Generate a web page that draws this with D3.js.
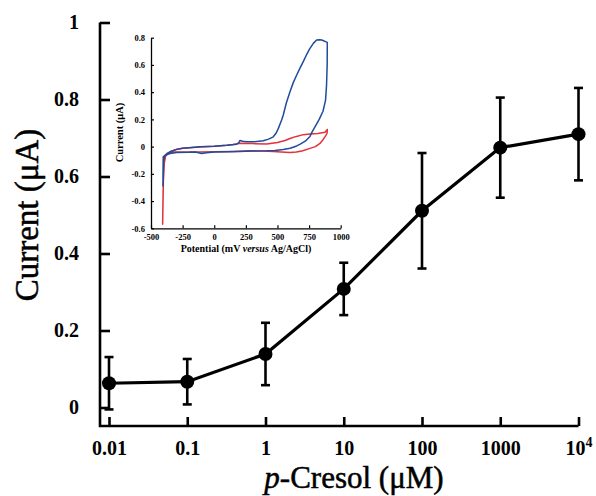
<!DOCTYPE html>
<html>
<head>
<meta charset="utf-8">
<script src="https://cdn.jsdelivr.net/npm/d3@7"></script>
<style>
  body { margin: 0; background: #fff; }
  svg { display: block; font-family: "Liberation Serif", "Times New Roman", serif; }
</style>
</head>
<body>
<svg id="chart" width="596" height="496"></svg>
<script>
// main plot: p-Cresol concentration (uM) vs. current (uA)
const concentrations = [0.01, 0.1, 1, 10, 100, 1000, 10000];
const currents = [0.063, 0.067, 0.139, 0.308, 0.511, 0.675, 0.71];
const errors = [0.068, 0.059, 0.081, 0.068, 0.15, 0.13, 0.12];
const xTicks = [0.01, 0.1, 1, 10, 100, 1000, 10000];
const xTickLabels = ["0.01", "0.1", "1", "10", "100", "1000", "10^4"];
const yTicks = [0, 0.2, 0.4, 0.6, 0.8, 1];
const yTickLabels = ["0", "0.2", "0.4", "0.6", "0.8", "1"];

// inset: cyclic voltammograms, potential (mV) and current (uA)
const blueE = [-395, -370, -350, -300, -250, -200, -113, 0, 100, 178, 195, 204, 225, 257, 320, 388, 430, 467, 490, 507, 533, 546, 570, 599, 625, 652, 680, 704, 730, 757, 785, 810, 835, 850, 894,
  893, 888, 880, 860, 830, 800, 775, 757, 720, 680, 652, 600, 546, 480, 415, 300, 200, 100, 0, -60, -100, -150, -200, -297, -350, -389, -403, -405, -400, -395];
const blueI = [-0.075, -0.05, -0.038, -0.022, -0.012, -0.008, -0.001, 0.003, 0.01, 0.018, 0.03, 0.045, 0.04, 0.035, 0.036, 0.043, 0.055, 0.072, 0.1, 0.134, 0.195, 0.232, 0.32, 0.403, 0.47, 0.526, 0.58, 0.624, 0.675, 0.722, 0.76, 0.783, 0.785, 0.783, 0.766,
  0.6, 0.45, 0.34, 0.26, 0.2, 0.15, 0.11, 0.075, 0.04, 0.018, 0.005, -0.012, -0.021, -0.028, -0.031, -0.033, -0.035, -0.038, -0.04, -0.045, -0.05, -0.04, -0.042, -0.043, -0.05, -0.063, -0.075, -0.29, -0.1, -0.075];
const redE = [-390, -385, -360, -330, -300, -250, -113, 0, 100, 150, 204, 300, 415, 500, 560, 599, 650, 704, 757, 820, 876, 894,
  893, 884, 860, 836, 800, 757, 700, 650, 599, 530, 467, 380, 283, 150, 0, -113, -200, -323, -376, -400, -408, -402, -395, -390];
const redI = [-0.1, -0.07, -0.045, -0.03, -0.02, -0.012, -0.002, 0.003, 0.01, 0.015, 0.025, 0.022, 0.02, 0.03, 0.045, 0.06, 0.075, 0.088, 0.093, 0.097, 0.105, 0.126,
  0.1, 0.085, 0.05, 0.023, 0.0, -0.013, -0.03, -0.04, -0.043, -0.04, -0.036, -0.032, -0.031, -0.035, -0.038, -0.04, -0.039, -0.04, -0.05, -0.08, -0.57, -0.25, -0.12, -0.1];
const insetXTicks = [-500, -250, 0, 250, 500, 750, 1000];
const insetYTicks = [-0.6, -0.4, -0.2, 0, 0.2, 0.4, 0.6, 0.8];

const svg = d3.select('#chart');

// ---- main chart ----
const x = d3.scaleLog().domain([0.01, 10000]).range([109, 578.5]);
const y = d3.scaleLinear().domain([0, 1]).range([407.5, 22.5]);
const axisY = 426;     // x axis sits a bit below zero
const axisX = 100;     // y axis sits a bit left of first point

const main = svg.append('g');

// frame lines
main.append('path')
  .attr('d', `M${axisX},${y(1)}V${axisY}H${x(10000)}`)
  .attr('fill', 'none')
  .attr('stroke', '#000')
  .attr('stroke-width', 2.6);

const xAxis = main.append('g')
  .attr('transform', `translate(0,${axisY})`)
  .call(d3.axisBottom(x).tickValues(xTicks).tickSize(-9).tickPadding(14.5)
    .tickFormat((d, i) => xTickLabels[i]));
const yAxis = main.append('g')
  .attr('transform', `translate(${axisX},0)`)
  .call(d3.axisLeft(y).tickValues(yTicks).tickSize(-10).tickPadding(21)
    .tickFormat((d, i) => yTickLabels[i]));

[xAxis, yAxis].forEach(g => {
  g.select('.domain').remove();
  g.selectAll('.tick line').attr('stroke', '#000').attr('stroke-width', 2.6);
  g.selectAll('.tick text')
    .attr('fill', '#000')
    .attr('font-family', '"Liberation Serif", serif')
    .attr('font-weight', 'bold')
    .attr('font-size', 20);
});

// 10^4 with superscript
xAxis.selectAll('.tick text')
  .filter((d, i) => xTickLabels[i] === '10^4')
  .text('10')
  .append('tspan')
  .attr('dy', '-0.55em')
  .attr('font-size', 14)
  .text('4');

// error bars
const errG = main.append('g').attr('stroke', '#000').attr('stroke-width', 2.6);
concentrations.forEach((c, i) => {
  const top = y(currents[i] + errors[i]), bot = y(currents[i] - errors[i]), cx = x(c);
  errG.append('line').attr('x1', cx).attr('x2', cx).attr('y1', top).attr('y2', bot);
  errG.append('line').attr('x1', cx - 4.5).attr('x2', cx + 4.5).attr('y1', top).attr('y2', top);
  errG.append('line').attr('x1', cx - 4.5).attr('x2', cx + 4.5).attr('y1', bot).attr('y2', bot);
});

// line + markers
const pts = concentrations.map((c, i) => [c, currents[i]]);
main.append('path')
  .datum(pts)
  .attr('fill', 'none')
  .attr('stroke', '#000')
  .attr('stroke-width', 3.2)
  .attr('d', d3.line().x(d => x(d[0])).y(d => y(d[1])));

main.selectAll('circle.pt')
  .data(pts)
  .enter()
  .append('circle')
  .attr('class', 'pt')
  .attr('cx', d => x(d[0]))
  .attr('cy', d => y(d[1]))
  .attr('r', 7)
  .attr('fill', '#000');

// axis titles (a thin stroke to match the heavy print of the original)
main.append('text')
  .attr('transform', 'translate(38,215) rotate(-90)')
  .attr('text-anchor', 'middle')
  .attr('font-size', 33)
  .attr('stroke', '#000')
  .attr('stroke-width', 0.5)
  .text('Current (\u03bcA)');

const xt = main.append('text')
  .attr('x', 354)
  .attr('y', 488)
  .attr('text-anchor', 'middle')
  .attr('font-size', 31)
  .attr('stroke', '#000')
  .attr('stroke-width', 0.5);
xt.append('tspan').attr('font-style', 'italic').text('p');
xt.append('tspan').text('-Cresol (\u03bcM)');

// ---- inset ----
const ix = d3.scaleLinear().domain([-500, 1000]).range([151, 340.7]);
const iy = d3.scaleLinear().domain([-0.6, 0.8]).range([228.3, 37.7]);
const inset = svg.append('g');

const ixAxis = inset.append('g')
  .attr('transform', `translate(0,${iy(-0.6)})`)
  .call(d3.axisBottom(ix).tickValues(insetXTicks).tickSize(-3).tickSizeOuter(0).tickPadding(6)
    .tickFormat(d => String(d)));
const iyAxis = inset.append('g')
  .attr('transform', `translate(${ix(-500)},0)`)
  .call(d3.axisLeft(iy).tickValues(insetYTicks).tickSize(-3).tickSizeOuter(0).tickPadding(6)
    .tickFormat(d => String(d)));

[ixAxis, iyAxis].forEach(g => {
  g.select('.domain').attr('stroke', '#000').attr('stroke-width', 1.3);
  g.selectAll('.tick line').attr('stroke', '#000').attr('stroke-width', 1.2);
  g.selectAll('.tick text')
    .attr('fill', '#000')
    .attr('font-family', '"Liberation Serif", serif')
    .attr('font-weight', 'bold')
    .attr('font-size', 8.5);
});

const cvLine = d3.line().x(d => ix(d[0])).y(d => iy(d[1]));
inset.append('path')
  .datum(redE.map((e, i) => [e, redI[i]]))
  .attr('fill', 'none')
  .attr('stroke', '#e2323a')
  .attr('stroke-width', 1.5)
  .attr('stroke-linejoin', 'round')
  .attr('d', cvLine);
inset.append('path')
  .datum(blueE.map((e, i) => [e, blueI[i]]))
  .attr('fill', 'none')
  .attr('stroke', '#1f4c9c')
  .attr('stroke-width', 1.5)
  .attr('stroke-linejoin', 'round')
  .attr('d', cvLine);

inset.append('text')
  .attr('transform', 'translate(123,132.5) rotate(-90)')
  .attr('text-anchor', 'middle')
  .attr('font-weight', 'bold')
  .attr('font-size', 10.5)
  .text('Current (\u03bcA)');

const ixt = inset.append('text')
  .attr('x', 246)
  .attr('y', 252)
  .attr('text-anchor', 'middle')
  .attr('font-weight', 'bold')
  .attr('font-size', 10);
ixt.append('tspan').text('Potential (mV ');
ixt.append('tspan').attr('font-style', 'italic').text('versus');
ixt.append('tspan').text(' Ag/AgCl)');
</script>
</body>
</html>
